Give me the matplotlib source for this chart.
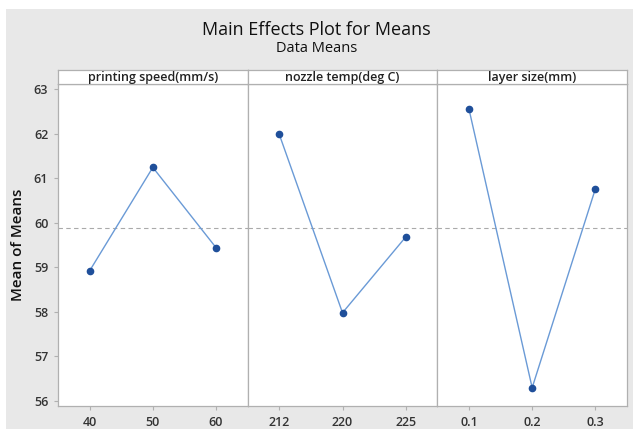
import matplotlib
matplotlib.use("Agg")
import matplotlib.pyplot as plt
from matplotlib.patches import Rectangle

# factor levels and mean response at each level
factors = ["printing speed(mm/s)", "nozzle temp(deg C)", "layer size(mm)"]
levels = [["40", "50", "60"], ["212", "220", "225"], ["0.1", "0.2", "0.3"]]
means = [[58.92, 61.24, 59.44], [61.98, 57.98, 59.68], [62.55, 56.30, 60.76]]
grand_mean = 59.87
y_ticks = [56, 57, 58, 59, 60, 61, 62, 63]

BG = "#e8e8e8"
LINE = "#6a9ad6"
DOT = "#1f4f9a"
EDGE = "#b0b0b0"
TXT = "#333333"

plt.rcParams["font.family"] = ["Open Sans", "DejaVu Sans"]

fig = plt.figure(figsize=(6.33, 4.32), dpi=100, facecolor="white")
# gray background panel with a thin white margin
fig.patches.append(Rectangle((6 / 633, 3 / 432), 627 / 633, 420 / 432,
                             transform=fig.transFigure, facecolor=BG,
                             edgecolor="none", zorder=-10))

W, H = 633, 432
left, right = 58, 627
bottom, top = 406, 84
head_top = 70
pw = (right - left) / 3

for i in range(3):
    x0 = left + i * pw
    ax = fig.add_axes([x0 / W, 1 - bottom / H, pw / W, (bottom - top) / H])
    ax.set_facecolor("white")
    x = list(range(3))
    ax.plot(x, means[i], color=LINE, lw=1.0, zorder=2)
    ax.plot(x, means[i], "o", color=DOT, ms=4.5, zorder=3)
    ax.axhline(grand_mean, color="#aaaaaa", lw=0.8, ls=(0, (4, 3)), zorder=1)
    ax.set_xlim(-0.5, 2.5)
    ax.set_ylim(55.89, 63.11)
    ax.set_xticks(x)
    ax.set_xticklabels(levels[i], fontsize=9, color=TXT, fontweight="semibold")
    ax.set_yticks(y_ticks)
    if i == 0:
        ax.set_yticklabels([str(v) for v in y_ticks], fontsize=9, color=TXT,
                           fontweight="semibold")
        ax.set_ylabel("Mean of Means", fontsize=11, color="#111111",
                      labelpad=6, fontweight="semibold")
    else:
        ax.tick_params(axis="y", left=False, labelleft=False)
    ax.tick_params(axis="both", length=3, color=EDGE, width=0.8, pad=4)
    for s in ax.spines.values():
        s.set_color(EDGE)
        s.set_linewidth(0.9)

    # strip header above each panel
    hx = fig.add_axes([x0 / W, 1 - top / H, pw / W, (top - head_top) / H])
    hx.set_facecolor("white")
    hx.set_xticks([])
    hx.set_yticks([])
    for s in hx.spines.values():
        s.set_color(EDGE)
        s.set_linewidth(0.9)
    hx.text(0.5, 0.45, factors[i], ha="center", va="center", fontsize=9,
            color="#222222", fontweight="semibold", transform=hx.transAxes)

fig.text(0.5, 1 - 30 / H, "Main Effects Plot for Means", ha="center",
         va="center", fontsize=13, color="#111111", fontweight="medium")
fig.text(0.5, 1 - 48 / H, "Data Means", ha="center", va="center",
         fontsize=10.5, color="#111111", fontweight="medium")

fig.savefig("out.png", dpi=100, facecolor="white")
